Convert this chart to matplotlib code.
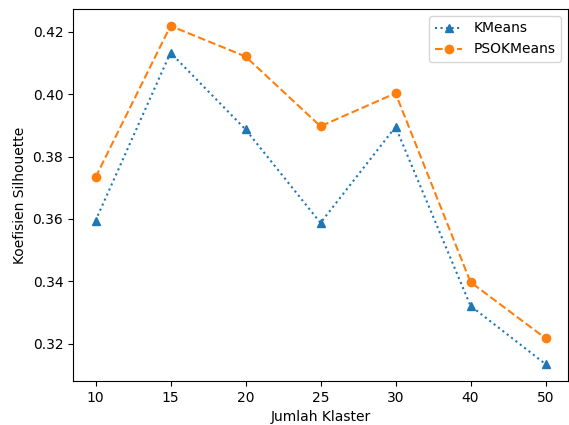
import matplotlib
matplotlib.use("Agg")
import matplotlib.pyplot as plt

clusters = ["10", "15", "20", "25", "30", "40", "50"]
kmeans = [0.3594, 0.4133, 0.3887, 0.3587, 0.3895, 0.3321, 0.3134]
psokmeans = [0.3733, 0.4219, 0.4121, 0.3897, 0.4003, 0.3397, 0.3217]

fig = plt.figure(figsize=(5.69, 4.25), dpi=100)
ax = fig.add_axes([73/569, 1 - 381/425, (568 - 73)/569, (381 - 9)/425])
x = list(range(len(clusters)))
ax.plot(x, kmeans, linestyle=":", marker="^", label="KMeans")
ax.plot(x, psokmeans, linestyle="--", marker="o", label="PSOKMeans")
ax.set_xticks(x)
ax.set_xticklabels(clusters)
ax.set_xlabel("Jumlah Klaster")
ax.set_ylabel("Koefisien Silhouette")
ax.legend(loc="upper right")
fig.savefig("out.png", dpi=100)
